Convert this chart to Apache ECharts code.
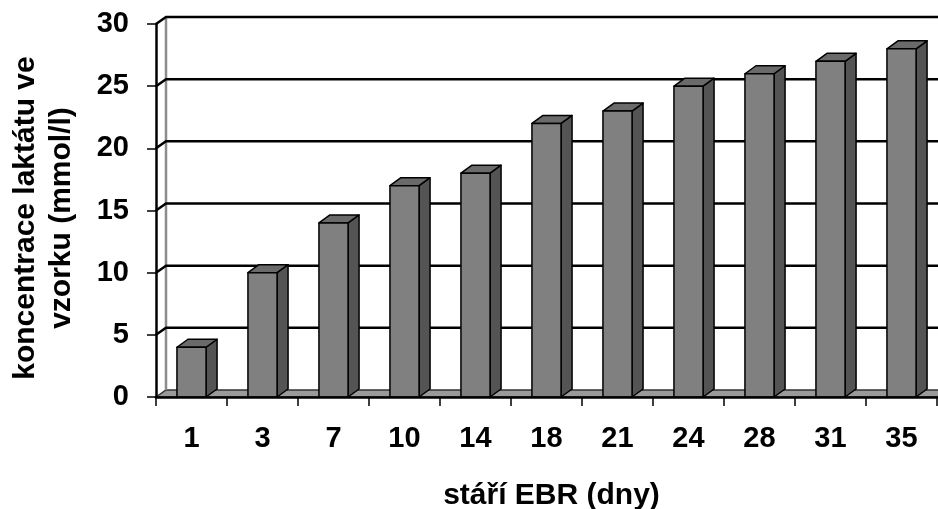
<!DOCTYPE html>
<html>
<head>
<meta charset="utf-8">
<script src="https://cdn.jsdelivr.net/npm/echarts@6/dist/echarts.min.js"></script>
<style>
  html, body { margin: 0; padding: 0; background: #fff; }
  #chart { width: 938px; height: 509px; }
</style>
</head>
<body>
<div id="chart"></div>
<script>
var days = ["1", "3", "7", "10", "14", "18", "21", "24", "28", "31", "35"];
var lactate = [4, 10, 14, 17, 18, 22, 23, 25, 26, 27, 28];
var yTicks = [0, 5, 10, 15, 20, 25, 30];

// hloubka 3D efektu (px)
var wallDx = 10, wallDy = 7;
var barDx = 11, barDy = 8;
var font = "Liberation Sans, Arial, sans-serif";

var chart = echarts.init(document.getElementById("chart"));

function renderFrame(params, api) {
  var cs = params.coordSys;
  var v = api.value(0);
  var y = api.coord([0, v])[1];
  var x0 = cs.x, x1 = cs.x + cs.width;
  var children = [];
  if (v === 0) {
    children.push({
      type: "polygon",
      shape: { points: [[x0, y], [x0 + wallDx, y - wallDy], [x1 + wallDx, y - wallDy], [x1, y]] },
      style: { fill: "#9a9a9a", stroke: "#333", lineWidth: 1.5 }
    });
    // levá hrana zadní stěny
    var yTop = api.coord([0, yTicks[yTicks.length - 1]])[1];
    children.push({
      type: "line",
      shape: { x1: x0 + wallDx, y1: y - wallDy, x2: x0 + wallDx, y2: yTop - wallDy },
      style: { stroke: "#8c8c8c", lineWidth: 2.5 }
    });
  } else {
    children.push({
      type: "polyline",
      shape: { points: [[x0, y], [x0 + wallDx, y - wallDy], [x1 + wallDx, y - wallDy]] },
      style: { stroke: "#000", lineWidth: 2.5, fill: null }
    });
  }
  return { type: "group", children: children };
}

function renderBar(params, api) {
  var idx = api.value(0);
  var top = api.coord([idx, api.value(1)]);
  var base = api.coord([idx, 0]);
  var band = api.size([1, 0])[0];
  var w = band * 0.41;
  var l = top[0] - w / 2, r = top[0] + w / 2;
  var t = top[1], b = base[1];
  var st = { stroke: "#000", lineWidth: 1.5, lineJoin: "round" };
  return {
    type: "group",
    children: [
      { type: "polygon", shape: { points: [[r, b], [r + barDx, b - barDy], [r + barDx, t - barDy], [r, t]] },
        style: Object.assign({ fill: "#545454" }, st) },
      { type: "polygon", shape: { points: [[l, t], [l + barDx, t - barDy], [r + barDx, t - barDy], [r, t]] },
        style: Object.assign({ fill: "#6a6a6a" }, st) },
      { type: "rect", shape: { x: l, y: t, width: w, height: b - t },
        style: Object.assign({ fill: "#808080" }, st) }
    ]
  };
}

chart.setOption({
  animation: false,
  grid: { left: 156, right: 1, top: 24, bottom: 112, outerBoundsMode: "none", containLabel: false },
  xAxis: {
    type: "category",
    data: days,
    name: "stáří EBR (dny)",
    nameLocation: "middle",
    nameGap: 84,
    nameTextStyle: { color: "#000", fontSize: 30, fontWeight: "bold", fontFamily: font, padding: [0, 0, 0, 10] },
    axisLine: { lineStyle: { color: "#000", width: 2.5 } },
    axisTick: { show: true, length: 9, lineStyle: { color: "#000", width: 1.5 } },
    axisLabel: { color: "#000", fontSize: 29, fontWeight: "bold", fontFamily: font, margin: 27 },
    splitLine: { show: false },
    z: 10
  },
  yAxis: {
    type: "value",
    min: 0,
    max: 30,
    interval: 5,
    name: "koncentrace laktátu ve\nvzorku (mmol/l)",
    nameLocation: "middle",
    nameGap: 76,
    nameTextStyle: { color: "#000", fontSize: 30, fontWeight: "bold", fontFamily: font, lineHeight: 36, padding: [0, 15, 0, 0] },
    axisLine: { show: true, lineStyle: { color: "#000", width: 2.5 } },
    axisTick: { show: true, length: 9, lineStyle: { color: "#000", width: 1.5 } },
    axisLabel: { color: "#000", fontSize: 29, fontWeight: "bold", fontFamily: font, margin: 27 },
    splitLine: { show: false },
    z: 10
  },
  series: [
    {
      type: "custom",
      name: "frame",
      silent: true,
      z: 1,
      renderItem: renderFrame,
      data: yTicks.map(function (v) { return [v]; })
    },
    {
      type: "custom",
      name: "laktát",
      z: 3,
      renderItem: renderBar,
      encode: { x: 0, y: 1 },
      data: lactate.map(function (v, i) { return [i, v]; })
    }
  ]
});
</script>
</body>
</html>
